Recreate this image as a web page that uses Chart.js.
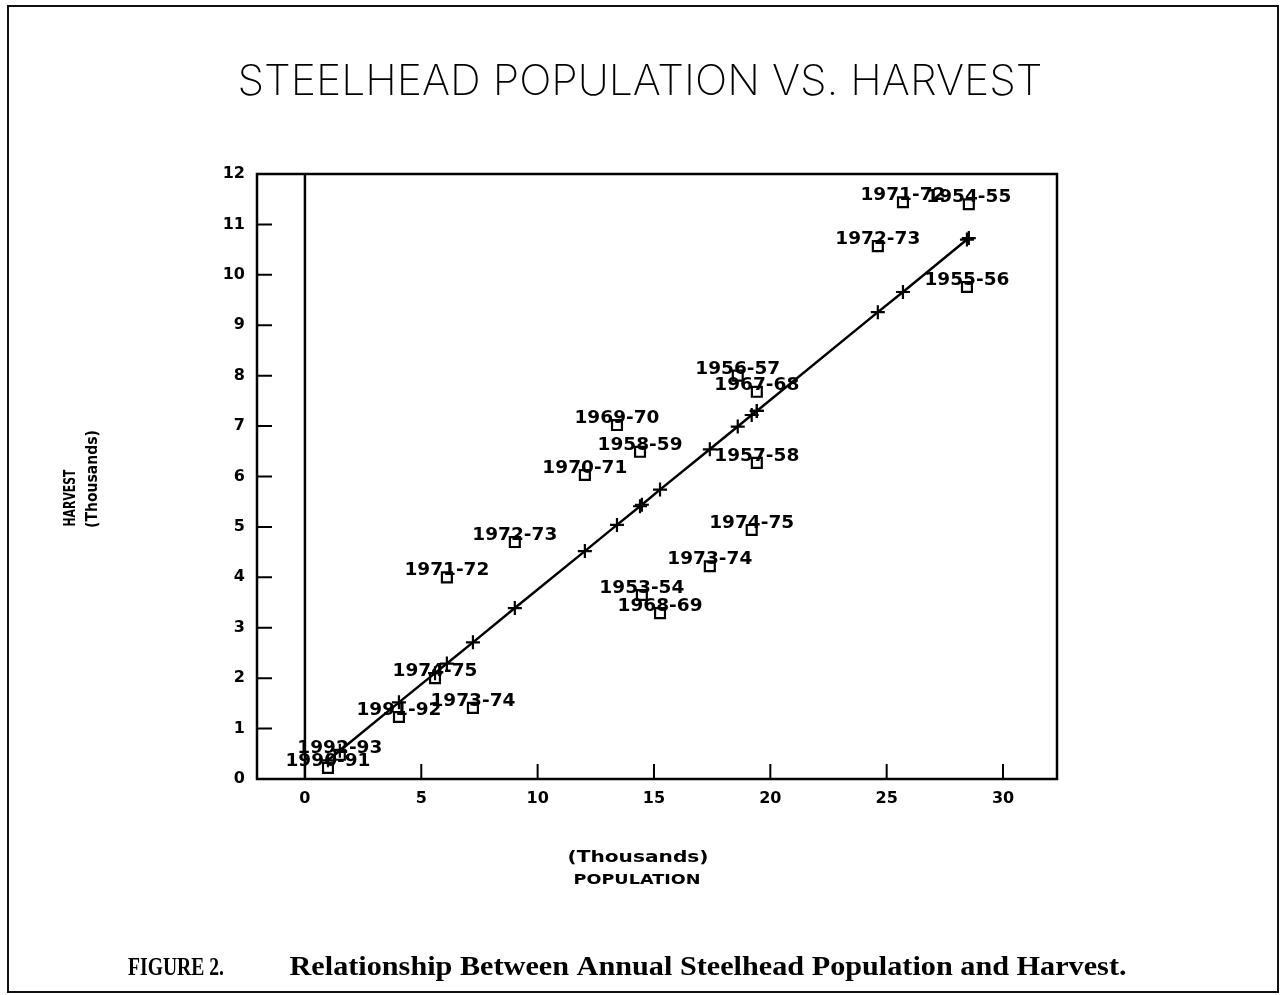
<!DOCTYPE html>
<html>
<head>
<meta charset="utf-8">
<title>Steelhead Population vs. Harvest</title>
<script src="https://cdn.jsdelivr.net/npm/chart.js@4.4.0/dist/chart.umd.min.js"></script>
<style>
  html, body { margin: 0; padding: 0; background: #fff; }
  #page { position: relative; width: 1281px; height: 995px; overflow: hidden; background: #fff; }
  #frame { position: absolute; left: 7px; top: 5px; width: 1268px; height: 984px; border: 2px solid #111; }
  #chart { position: absolute; left: 0; top: 0; }
</style>
</head>
<body>
<div id="page">
  <div id="frame"></div>
  <canvas id="chart" width="1281" height="995"></canvas>
</div>
<script>
// Seasons and values (thousands of fish)
const seasons = ['1990-91', '1992-93', '1991-92', '1974-75', '1971-72', '1973-74', '1972-73',
                 '1970-71', '1969-70', '1958-59', '1953-54', '1968-69', '1973-74', '1956-57',
                 '1974-75', '1967-68', '1957-58', '1972-73', '1971-72', '1955-56', '1954-55'];
const population = [0.99, 1.50, 4.04, 5.59, 6.10, 7.22, 9.02, 12.03, 13.41, 14.40, 14.48,
                    15.26, 17.40, 18.60, 19.20, 19.42, 19.42, 24.62, 25.70, 28.45, 28.53];
const harvest = [0.22, 0.48, 1.23, 2.00, 4.00, 1.41, 4.70, 6.03, 7.02, 6.49, 3.65,
                 3.29, 4.22, 8.00, 4.94, 7.68, 6.27, 10.57, 11.44, 9.76, 11.40];

// Regression line: "+" markers read at the same populations
const fitHarvest = [0.37, 0.56, 1.52, 2.10, 2.29, 2.71, 3.39, 4.52, 5.04, 5.41, 5.44,
                    5.74, 6.54, 6.99, 7.22, 7.30, 7.30, 9.26, 9.66, 10.70, 10.73];

// Tick labels
const xTicks = [0, 5, 10, 15, 20, 25, 30];
const yTicks = [0, 1, 2, 3, 4, 5, 6, 7, 8, 9, 10, 11, 12];

// Draw text centred on cx at baseline by, stretched/squeezed to a given width
function drawFitted(ctx, text, cx, by, font, width, angle) {
    ctx.save();
    ctx.font = font;
    const w = ctx.measureText(text).width;
    ctx.translate(cx, by);
    if (angle) ctx.rotate(angle);
    ctx.scale(width / w, 1);
    ctx.textAlign = 'center';
    ctx.textBaseline = 'alphabetic';
    ctx.fillText(text, 0, 0);
    ctx.restore();
}

const figurePlugin = {
    id: 'figure',
    afterDraw(chart) {
        const { ctx, chartArea: a, scales: { x, y } } = chart;
        ctx.save();
        ctx.strokeStyle = '#000';
        ctx.fillStyle = '#000';
        ctx.lineWidth = 2.5;

        // Plot box
        ctx.strokeRect(a.left, a.top, a.right - a.left, a.bottom - a.top);

        // Vertical line at population 0
        const x0 = x.getPixelForValue(0);
        ctx.beginPath();
        ctx.moveTo(x0, a.top);
        ctx.lineTo(x0, a.bottom);
        ctx.stroke();

        // Tick marks pointing into the plot
        ctx.lineWidth = 2;
        ctx.beginPath();
        x.ticks.forEach(t => {
            const px = x.getPixelForValue(t.value);
            ctx.moveTo(px, a.bottom);
            ctx.lineTo(px, a.bottom - 15);
        });
        y.ticks.forEach(t => {
            const py = y.getPixelForValue(t.value);
            ctx.moveTo(a.left, py);
            ctx.lineTo(a.left + 15, py);
        });
        ctx.stroke();

        // Season labels above each square
        const meta = chart.getDatasetMeta(0);
        meta.data.forEach((pt, i) => {
            drawFitted(ctx, seasons[i], pt.x, pt.y - 2, 'bold 17px "DejaVu Sans"', 85);
        });

        // Axis titles
        drawFitted(ctx, '(Thousands)', 638, 862, 'bold 15px "DejaVu Sans"', 141);
        drawFitted(ctx, 'POPULATION', 637, 884, 'bold 14px "DejaVu Sans"', 127);
        drawFitted(ctx, 'HARVEST', 75, 498, 'bold 15px "DejaVu Sans"', 57, -Math.PI / 2);
        drawFitted(ctx, '(Thousands)', 97, 479, 'bold 15px "DejaVu Sans"', 98, -Math.PI / 2);

        // Figure title and caption
        drawFitted(ctx, 'STEELHEAD POPULATION VS. HARVEST', 640, 95, '200 42px Inter, "Liberation Sans"', 805);
        drawFitted(ctx, 'FIGURE 2.', 176, 975, 'bold 26px "Liberation Serif"', 96);
        drawFitted(ctx, 'Relationship Between Annual Steelhead Population and Harvest.', 708, 975,
                   'bold 28px "Liberation Serif"', 837);
        ctx.restore();
    }
};

Chart.defaults.font.family = '"DejaVu Sans"';
Chart.defaults.color = '#000';

new Chart(document.getElementById('chart'), {
    type: 'scatter',
    data: {
        datasets: [
            {
                label: 'Observed',
                data: population.map((p, i) => ({ x: p, y: harvest[i] })),
                pointStyle: 'rect',
                pointRadius: 7,
                pointBorderWidth: 2.2,
                borderColor: '#000',
                backgroundColor: 'rgba(0,0,0,0)',
                showLine: false
            },
            {
                label: 'Fitted',
                data: population.map((p, i) => ({ x: p, y: fitHarvest[i] })),
                pointStyle: 'cross',
                pointRadius: 7,
                pointBorderWidth: 2.2,
                borderColor: '#000',
                borderWidth: 2.5,
                backgroundColor: '#000',
                showLine: true,
                fill: false
            }
        ]
    },
    options: {
        responsive: false,
        animation: false,
        layout: { padding: { left: 0, top: 174, right: 224, bottom: 176 } },
        plugins: {
            legend: { display: false },
            title: { display: false },
            tooltip: { enabled: false }
        },
        scales: {
            x: {
                type: 'linear',
                min: -2.06,
                max: 32.32,
                afterBuildTicks: scale => { scale.ticks = xTicks.map(v => ({ value: v })); },
                afterFit: scale => { scale.height = 40; },
                grid: { display: false, drawTicks: false },
                border: { display: false },
                ticks: { font: { size: 16, weight: 'bold' }, padding: 10, color: '#000' }
            },
            y: {
                type: 'linear',
                min: 0,
                max: 12,
                afterBuildTicks: scale => { scale.ticks = yTicks.map(v => ({ value: v })); },
                afterFit: scale => { scale.width = 257; },
                grid: { display: false, drawTicks: false },
                border: { display: false },
                ticks: { font: { size: 16, weight: 'bold' }, padding: 12, color: '#000' }
            }
        }
    },
    plugins: [figurePlugin]
});
</script>
</body>
</html>
